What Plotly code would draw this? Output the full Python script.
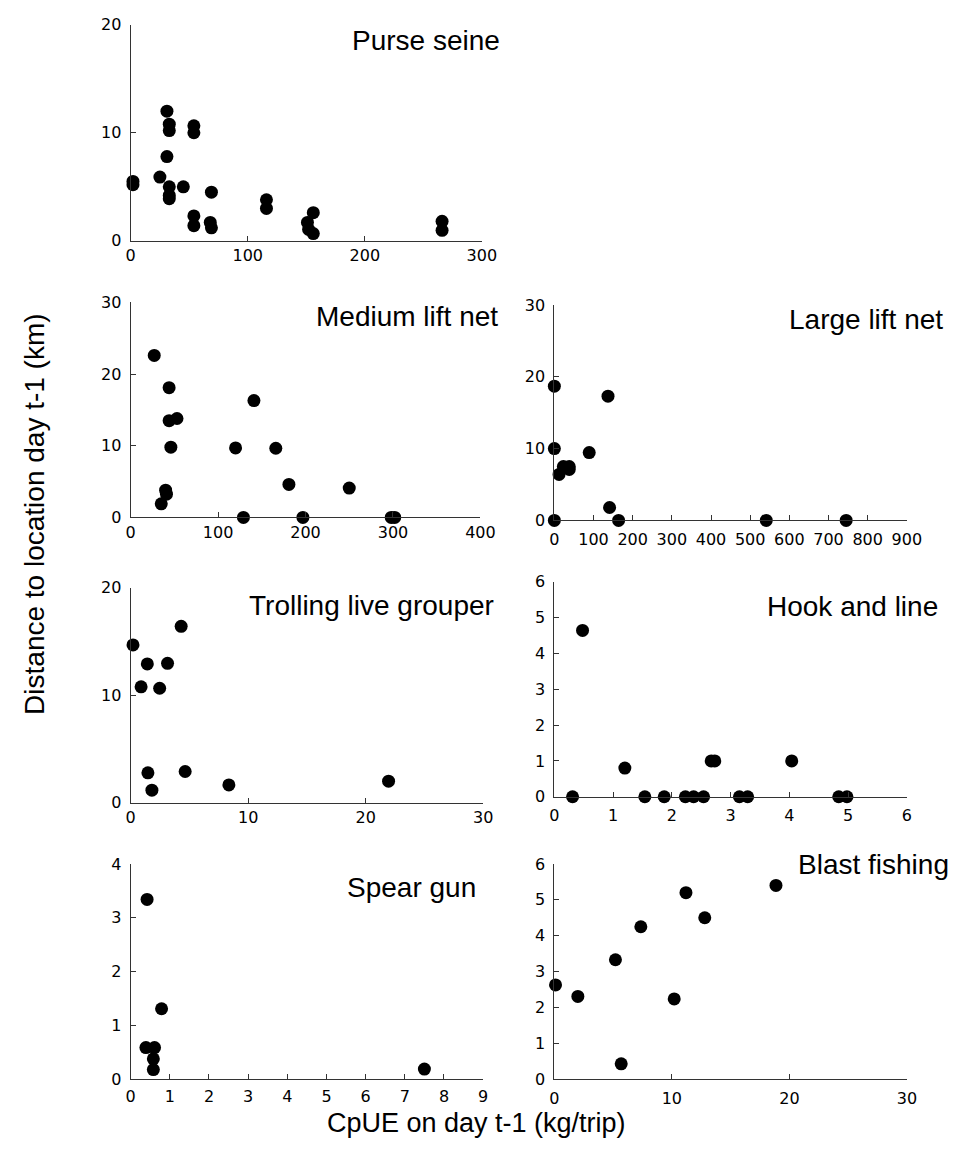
import plotly.graph_objects as go

# CpUE on day t-1 (kg/trip) vs distance to location day t-1 (km), by gear type
purse_seine_x = [2, 2, 31, 33, 33, 31, 25, 33, 33, 33, 45, 54, 54, 54, 54, 69, 68, 69, 116, 116, 151, 152, 156, 156, 266, 266]
purse_seine_y = [5.5, 5.2, 12.0, 10.8, 10.2, 7.8, 5.9, 5.0, 4.2, 3.9, 5.0, 10.65, 10.0, 2.3, 1.4, 4.5, 1.7, 1.2, 3.8, 3.0, 1.7, 1.05, 2.6, 0.67, 1.8, 0.97]

medium_lift_x = [27, 44, 44, 53, 46, 40, 41, 35, 120, 141, 166, 181, 250, 129, 197, 298, 302]
medium_lift_y = [22.6, 18.1, 13.5, 13.8, 9.8, 3.8, 3.25, 1.9, 9.7, 16.3, 9.65, 4.6, 4.1, 0, 0, 0, 0]

large_lift_x = [0, 0, 0, 137, 89, 12, 23, 38, 38, 141, 164, 541, 745]
large_lift_y = [18.7, 10.0, 0, 17.3, 9.45, 6.4, 7.5, 7.5, 7.1, 1.8, 0, 0, 0]

trolling_x = [0.2, 4.3, 1.42, 3.14, 0.89, 2.47, 1.47, 1.81, 4.64, 8.36, 21.95]
trolling_y = [14.67, 16.4, 12.9, 12.96, 10.77, 10.64, 2.77, 1.16, 2.9, 1.65, 2.0]

hook_line_x = [0.48, 0.31, 1.2, 1.54, 1.87, 2.23, 2.37, 2.54, 2.67, 2.73, 3.15, 3.29, 4.04, 4.84, 4.98]
hook_line_y = [4.64, 0, 0.8, 0, 0, 0, 0, 0, 1.0, 1.0, 0, 0, 1.0, 0, 0]

spear_gun_x = [0.42, 0.79, 0.39, 0.61, 0.58, 0.58, 7.5]
spear_gun_y = [3.34, 1.31, 0.59, 0.59, 0.38, 0.18, 0.19]

blast_x = [0.1, 2.0, 5.2, 7.36, 5.69, 10.2, 11.2, 12.8, 18.86]
blast_y = [2.63, 2.31, 3.33, 4.25, 0.43, 2.24, 5.2, 4.5, 5.4]

panel_names = ["Purse seine", "Medium lift net", "Large lift net", "Trolling live grouper",
               "Hook and line", "Spear gun", "Blast fishing"]
x_ranges = [(0, 300, 100), (0, 400, 100), (0, 900, 100), (0, 30, 10), (0, 6, 1), (0, 9, 1), (0, 30, 10)]
y_ranges = [(0, 20, 10), (0, 30, 10), (0, 30, 10), (0, 20, 10), (0, 6, 1), (0, 4, 1), (0, 6, 1)]

series = [(purse_seine_x, purse_seine_y), (medium_lift_x, medium_lift_y), (large_lift_x, large_lift_y),
          (trolling_x, trolling_y), (hook_line_x, hook_line_y), (spear_gun_x, spear_gun_y),
          (blast_x, blast_y)]

W, H = 963, 1149
FONT = "Arial, Liberation Sans, sans-serif"
TICK_FONT = "DejaVu Sans, Verdana, sans-serif"

# plot-area boxes in pixels: (left, top, right, bottom)
boxes = [
    (128.3, 16.0, 487.0, 235.7),
    (128.3, 298.3, 485.5, 517.0),
    (561.0, 301.0, 921.0, 520.0),
    (128.3, 588.3, 488.3, 807.0),
    (561.0, 582.3, 921.0, 801.0),
    (128.3, 869.3, 488.3, 1088.3),
    (561.0, 869.3, 921.0, 1088.3),
]
# extra gap between x axis line and its tick labels, per panel
x_standoff = [0, 0, 4, 0, 4, 2, 4]
# panel title anchor (left x, middle y) in pixels
title_pos = [(352, 32), (316, 313), (799, 316), (247, 607), (776, 608), (347, 893), (808, 870)]

fig = go.Figure()
axis_style = dict(showgrid=False, zeroline=False, showline=True, linecolor="#333333", linewidth=1,
                  ticks="inside", ticklen=5, tickcolor="#333333", tickwidth=1,
                  tickfont=dict(family=TICK_FONT, size=16, color="black"))

for i, ((xs, ys), box, xr, yr) in enumerate(zip(series, boxes, x_ranges, y_ranges)):
    n = "" if i == 0 else str(i + 1)
    fig.add_trace(go.Scatter(x=xs, y=ys, mode="markers", xaxis="x" + n, yaxis="y" + n,
                             marker=dict(size=13, color="black"), cliponaxis=False,
                             showlegend=False))
    l, t, r, b = box
    fig.layout["xaxis" + n] = dict(domain=[l / W, r / W], anchor="y" + n,
                                   range=[xr[0], xr[1]], dtick=xr[2], tick0=0,
                                   ticklabelstandoff=x_standoff[i], **axis_style)
    fig.layout["yaxis" + n] = dict(domain=[1 - b / H, 1 - t / H], anchor="x" + n,
                                   range=[yr[0], yr[1]], dtick=yr[2], tick0=0,
                                   ticklabelstandoff=5, **axis_style)

annotations = []
for name, (tx, ty) in zip(panel_names, title_pos):
    annotations.append(dict(text=name, x=tx / W, y=1 - ty / H, xref="paper", yref="paper",
                            xanchor="left", yanchor="middle", showarrow=False,
                            font=dict(family=FONT, size=28, color="black")))
annotations.append(dict(text="CpUE on day t-1 (kg/trip)", x=481 / W, y=1 - 1133 / H,
                        xref="paper", yref="paper", xanchor="center", yanchor="middle",
                        showarrow=False, font=dict(family=FONT, size=27, color="black")))
annotations.append(dict(text="Distance to location day t-1 (km)", x=30 / W, y=1 - 513 / H,
                        xref="paper", yref="paper", xanchor="center", yanchor="middle",
                        textangle=-90, showarrow=False,
                        font=dict(family=FONT, size=28, color="black")))

fig.update_layout(width=W, height=H, margin=dict(l=0, r=0, t=0, b=0),
                  paper_bgcolor="white", plot_bgcolor="white", annotations=annotations)

fig.write_html("out.html")
